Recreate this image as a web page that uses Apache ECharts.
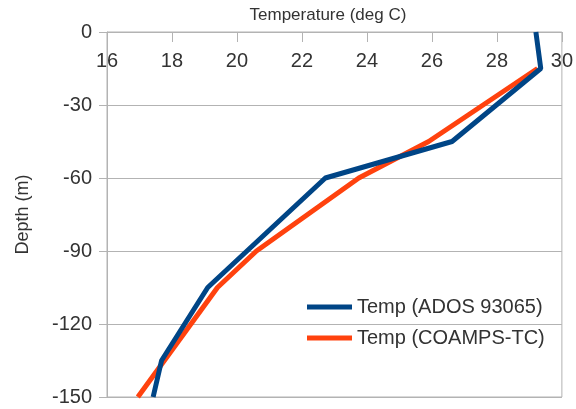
<!DOCTYPE html>
<html>
<head>
<meta charset="utf-8">
<script src="https://cdn.jsdelivr.net/npm/echarts@6/dist/echarts.min.js"></script>
<style>
  html, body { margin: 0; padding: 0; background: #fff; }
  #profileChart { width: 576px; height: 409px; }
</style>
</head>
<body>
<div id="profileChart"></div>
<script>
// 温度剖面数据 (depth m, temp deg C)
var adosName = 'Temp (ADOS 93065)';
var coampsName = 'Temp (COAMPS-TC)';
var adosDepth = [0, -15, -45, -60, -105, -135, -150];
var adosTemp = [29.2, 29.35, 26.62, 22.72, 19.1, 17.68, 17.42];
var coampsDepth = [-15, -45, -60, -90, -105, -150];
var coampsTemp = [29.25, 25.9, 23.75, 20.6, 19.4, 16.95];
var tempTicks = [16, 30, 2];     // min, max, interval
var depthTicks = [-150, 0, 30];  // min, max, interval

var gridColor = '#b3b3b3';
var textColor = '#333333';
var fontName = 'Liberation Sans';

function toPairs (temps, depths) {
    var arr = [];
    for (var i = 0; i < temps.length; i++) {
        arr.push([temps[i], depths[i]]);
    }
    return arr;
}

var myChart = echarts.init(document.getElementById('profileChart'));
var option = {
    animation: false,
    textStyle: { fontFamily: fontName },
    grid: {
        left: 107,
        right: 12,
        top: 32,
        bottom: 12,
        show: true,
        borderColor: gridColor,
        borderWidth: 1
    },
    legend: {
        orient: 'vertical',
        left: 302,
        top: 292,
        icon: 'rect',
        itemWidth: 45,
        itemHeight: 5,
        itemGap: 11,
        data: [adosName, coampsName],
        textStyle: { fontSize: 20, color: textColor, fontFamily: fontName }
    },
    xAxis: {
        type: 'value',
        position: 'top',
        min: tempTicks[0],
        max: tempTicks[1],
        interval: tempTicks[2],
        name: 'Temperature (deg C)',
        nameLocation: 'middle',
        nameGap: 8,
        nameTextStyle: { fontSize: 17, color: textColor, padding: [0, 13, 0, 0] },
        axisLine: { show: true, lineStyle: { color: gridColor } },
        axisTick: { show: true, inside: true, length: 10, lineStyle: { color: gridColor } },
        axisLabel: { inside: true, margin: 19, fontSize: 20, color: textColor },
        splitLine: { show: false }
    },
    yAxis: {
        type: 'value',
        min: depthTicks[0],
        max: depthTicks[1],
        interval: depthTicks[2],
        name: 'Depth (m)',
        nameLocation: 'middle',
        nameGap: 75,
        nameTextStyle: { fontSize: 18, color: textColor },
        axisLine: { show: true, lineStyle: { color: gridColor } },
        axisTick: { show: true, length: 8, lineStyle: { color: gridColor } },
        axisLabel: { margin: 15, fontSize: 20, color: textColor },
        splitLine: { show: true, lineStyle: { color: gridColor } }
    },
    series: [
        {
            name: adosName,
            type: 'line',
            z: 3,
            showSymbol: false,
            color: '#004586',
            lineStyle: { width: 5, color: '#004586' },
            data: toPairs(adosTemp, adosDepth)
        },
        {
            name: coampsName,
            type: 'line',
            z: 2,
            showSymbol: false,
            color: '#ff420e',
            lineStyle: { width: 5, color: '#ff420e' },
            data: toPairs(coampsTemp, coampsDepth)
        }
    ]
};
myChart.setOption(option);
</script>
</body>
</html>
